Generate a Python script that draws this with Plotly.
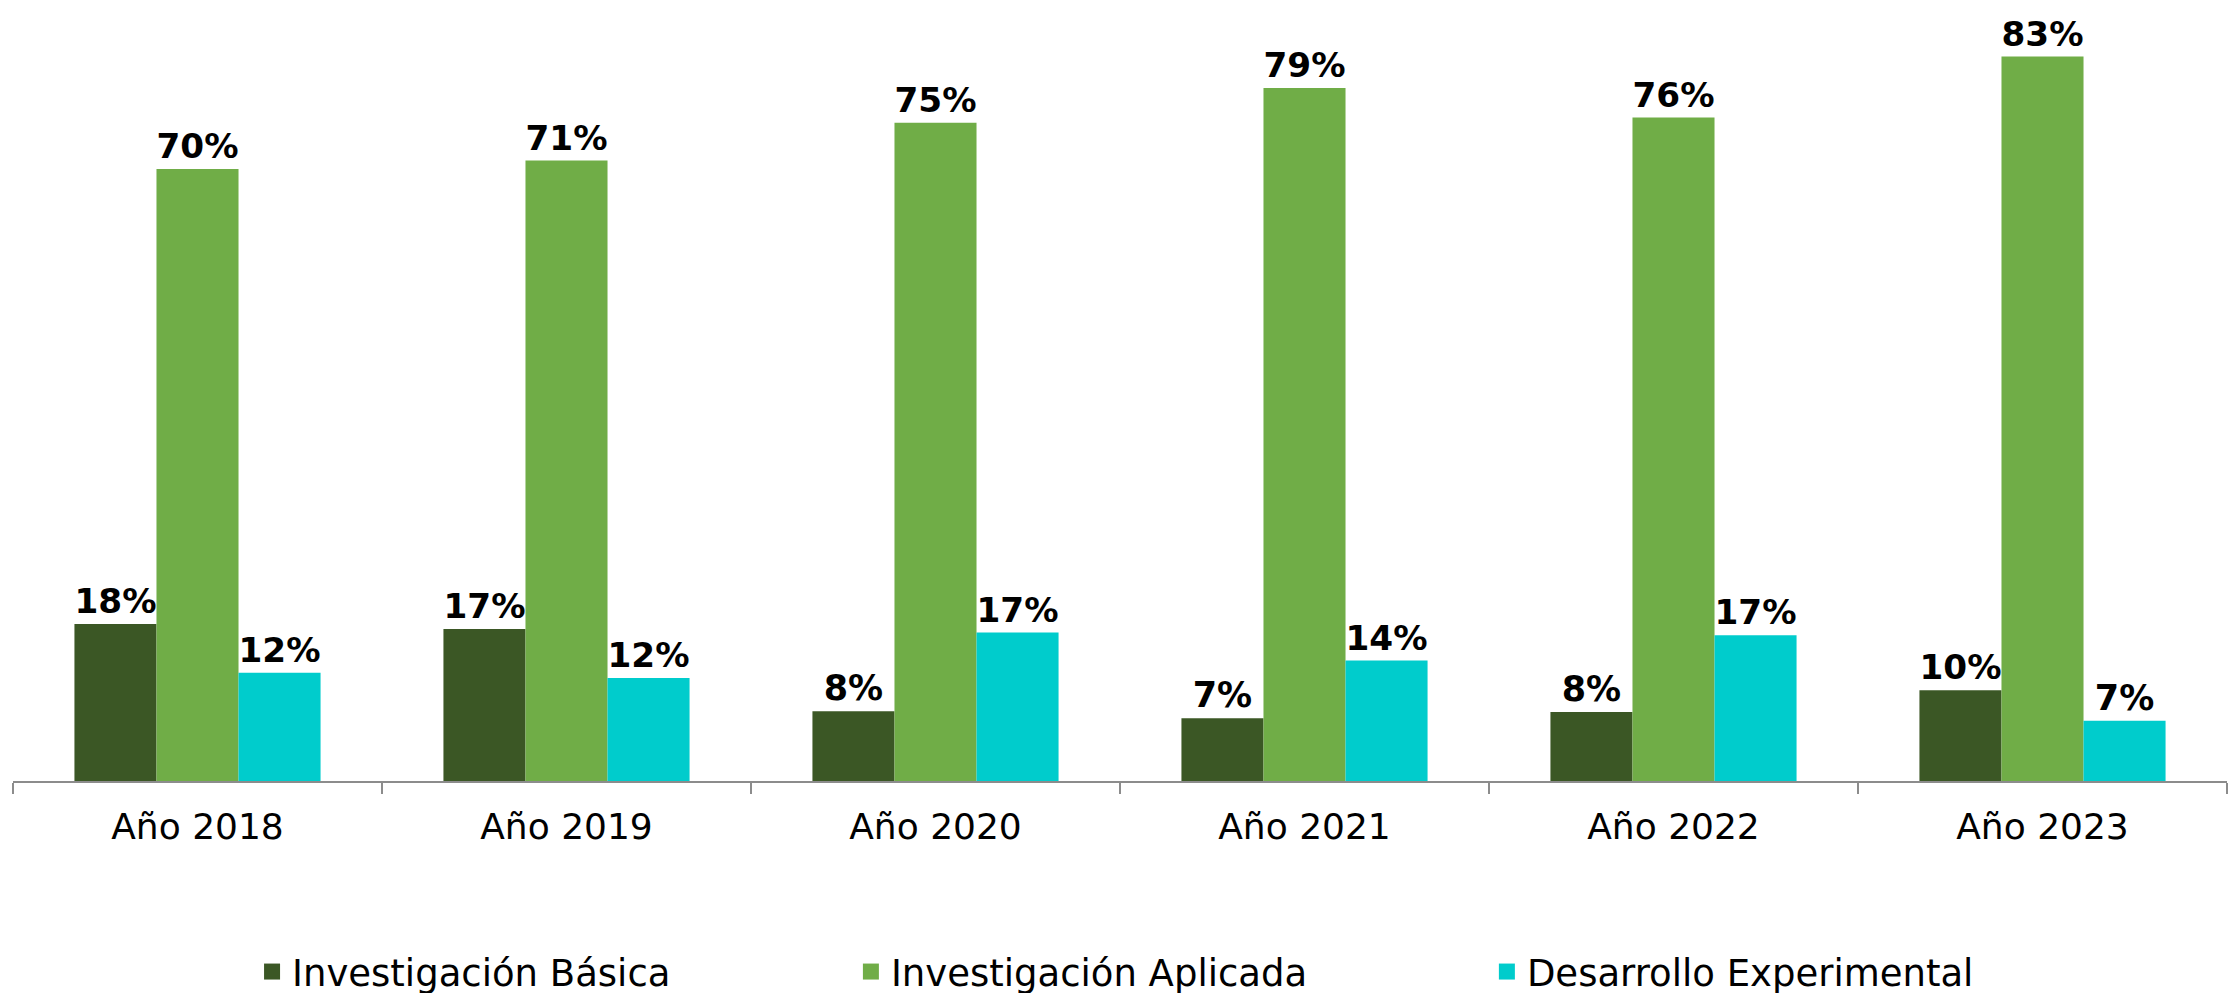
import plotly.graph_objects as go

categories = ["Año 2018", "Año 2019", "Año 2020", "Año 2021", "Año 2022", "Año 2023"]
basica = [18.0, 17.4, 8.0, 7.2, 7.9, 10.4]
aplicada = [70.1, 71.1, 75.4, 79.4, 76.0, 83.0]
experimental = [12.4, 11.8, 17.0, 13.8, 16.7, 6.9]

series = [
    ("Investigación Básica", basica, "#3B5725"),
    ("Investigación Aplicada", aplicada, "#70AD47"),
    ("Desarrollo Experimental", experimental, "#00CCCC"),
]
legend_ids = ["legend", "legend2", "legend3"]
legend_x = [0.1091, 0.3768, 0.6611]

FONT = "DejaVu Sans"
fig = go.Figure()
for name, vals, color in series:
    fig.add_trace(go.Bar(
        x=categories, y=vals, name=name, showlegend=False,
        marker=dict(color=color, line=dict(width=0)),
        texttemplate="%{y:.0f}%", textposition="outside",
        textfont=dict(family=FONT, size=35, color="black", weight="bold"),
        cliponaxis=False,
    ))
# legend proxies (square swatches)
for (name, vals, color), lid in zip(series, legend_ids):
    fig.add_trace(go.Scatter(
        x=[None], y=[None], mode="markers", name=name, legend=lid,
        marker=dict(symbol="square", size=16, color=color),
        showlegend=True,
    ))

legend_common = dict(
    orientation="h", xref="container", yref="container",
    y=0.0292, yanchor="middle", xanchor="left",
    font=dict(family=FONT, size=37, color="black"),
    itemsizing="trace", itemclick=False, bgcolor="rgba(0,0,0,0)",
)
fig.update_layout(
    width=2237, height=993,
    margin=dict(l=5, r=18, t=4, b=220),
    paper_bgcolor="white", plot_bgcolor="white",
    barmode="group", bargap=0.333, bargroupgap=0,
    font=dict(family=FONT, color="black"),
    legend=dict(x=legend_x[0], **legend_common),
    legend2=dict(x=legend_x[1], **legend_common),
    legend3=dict(x=legend_x[2], **legend_common),
)
fig.update_xaxes(
    showline=True, linecolor="#8C8C8C", linewidth=2,
    ticks="outside", tickson="boundaries", ticklen=11, tickcolor="#8C8C8C", tickwidth=2,
    tickfont=dict(family=FONT, size=36, color="black"),
    ticklabelstandoff=13,
    showgrid=False,
)
fig.update_yaxes(range=[0, 88.1], visible=False, showgrid=False)

fig.write_html("out.html")
